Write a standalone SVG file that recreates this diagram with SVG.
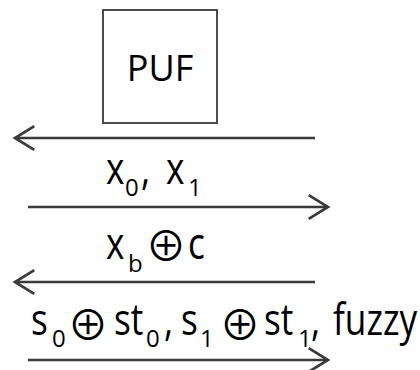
<svg xmlns="http://www.w3.org/2000/svg" width="420" height="370" viewBox="0 0 420 370">
<style>
.ln{stroke:#3a3a3a;stroke-width:2.5;fill:none}
.t{font-family:"Open Sans","Liberation Sans",Arial,sans-serif;fill:#000}
.m{font-size:43px}
.s{font-size:24px}
.op{font-family:"Noto Sans CJK JP","DejaVu Sans",sans-serif;font-size:41px;text-anchor:middle}
</style>
<defs>
<marker id="ah" markerUnits="userSpaceOnUse" markerWidth="30" markerHeight="30" viewBox="-22 -14 26 28" refX="0" refY="0" orient="auto" overflow="visible">
<path d="M -18 -11 L 0 0 L -18 11" stroke="#3a3a3a" stroke-width="2.5" fill="none"/>
</marker>
</defs>
<g id="puf">
<rect x="103" y="10" width="114" height="113" fill="#fff" stroke="#3a3a3a" stroke-width="1.8"/>
<text class="t" x="160" y="81" font-size="36" text-anchor="middle">PUF</text>
</g>
<g id="connectors">
<line class="ln" x1="315" y1="138" x2="15" y2="138" marker-end="url(#ah)"/>
<line class="ln" x1="28" y1="207" x2="328" y2="207" marker-end="url(#ah)"/>
<line class="ln" x1="315" y1="282" x2="15" y2="282" marker-end="url(#ah)"/>
<line class="ln" x1="28" y1="360" x2="328" y2="360" marker-end="url(#ah)"/>
</g>
<g id="label1">
<text class="t m" transform="translate(106,184) scale(0.82,1)">x</text>
<text class="t s" x="125" y="196">0</text>
<text class="t m" transform="translate(141,184) scale(0.82,1)">,</text>
<text class="t m" transform="translate(166,184) scale(0.82,1)">x</text>
<text class="t s" x="188" y="196">1</text>
</g>
<g id="label2">
<text class="t m" transform="translate(106,259) scale(0.82,1)">x</text>
<text class="t s" x="128" y="272" font-size="25">b</text>
<text class="t op" x="166" y="261">⊕</text>
<text class="t m" transform="translate(188,259) scale(0.82,1)">c</text>
</g>
<g id="label3">
<text class="t m" transform="translate(31,335) scale(0.82,1)">s</text>
<text class="t s" x="52" y="347">0</text>
<text class="t op" x="88" y="340">⊕</text>
<text class="t m" transform="translate(114,335) scale(0.82,1)">st</text>
<text class="t s" x="146" y="347">0</text>
<text class="t m" transform="translate(164,335) scale(0.82,1)">,</text>
<text class="t m" transform="translate(181,335) scale(0.82,1)">s</text>
<text class="t s" x="200" y="347">1</text>
<text class="t op" x="240" y="340">⊕</text>
<text class="t m" transform="translate(264,335) scale(0.82,1)">st</text>
<text class="t s" x="298" y="347">1</text>
<text class="t m" transform="translate(311,335) scale(0.82,1)">,</text>
<text class="t m" transform="translate(333,335) scale(0.82,1)">fuzzy</text>
</g>
</svg>
